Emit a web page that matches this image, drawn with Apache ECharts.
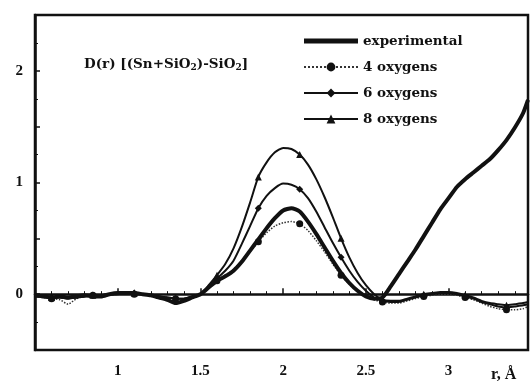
<!DOCTYPE html>
<html><head><meta charset="utf-8">
<script src="https://cdn.jsdelivr.net/npm/echarts@6/dist/echarts.min.js"></script>
<style>html,body{margin:0;padding:0;background:#fff}#c{width:531px;height:381px}</style>
</head><body><div id="c"></div>
<script>
// r grid (Å): 0.50 .. 3.45 in 0.05 steps, then 3.48
const rValues = [0.50,0.55,0.60,0.65,0.70,0.75,0.80,0.85,0.90,0.95,
  1.00,1.05,1.10,1.15,1.20,1.25,1.30,1.35,1.40,1.45,
  1.50,1.55,1.60,1.65,1.70,1.75,1.80,1.85,1.90,1.95,
  2.00,2.05,2.10,2.15,2.20,2.25,2.30,2.35,2.40,2.45,
  2.50,2.55,2.60,2.65,2.70,2.75,2.80,2.85,2.90,2.95,
  3.00,3.05,3.10,3.15,3.20,3.25,3.30,3.35,3.40,3.45,3.48];

const experimental = [-0.01,-0.02,-0.03,-0.02,-0.03,-0.02,-0.01,-0.02,-0.02,0.00,
  0.01,0.01,0.01,0.00,-0.01,-0.03,-0.05,-0.08,-0.06,-0.03,
  0.00,0.06,0.12,0.16,0.21,0.29,0.39,0.49,0.59,0.68,
  0.75,0.77,0.74,0.65,0.54,0.42,0.30,0.19,0.10,0.03,
  -0.02,-0.04,-0.03,0.07,0.18,0.29,0.40,0.52,0.64,0.76,
  0.86,0.96,1.03,1.09,1.15,1.21,1.29,1.38,1.49,1.62,1.74];

const oxygens4 = [-0.02,-0.03,-0.04,-0.05,-0.09,-0.04,-0.02,-0.01,-0.02,-0.01,
  0.00,0.01,0.00,0.00,-0.01,-0.02,-0.03,-0.04,-0.04,-0.02,
  0.00,0.06,0.12,0.17,0.22,0.30,0.38,0.47,0.55,0.61,
  0.64,0.65,0.63,0.57,0.48,0.38,0.27,0.17,0.09,0.03,
  -0.01,-0.05,-0.07,-0.08,-0.08,-0.06,-0.04,-0.02,-0.01,0.00,
  0.00,-0.01,-0.03,-0.05,-0.08,-0.11,-0.13,-0.14,-0.14,-0.13,-0.11];

const oxygens6 = [-0.02,-0.02,-0.03,-0.03,-0.04,-0.03,-0.02,-0.01,-0.01,0.00,
  0.00,0.01,0.01,0.00,-0.01,-0.02,-0.03,-0.04,-0.04,-0.02,
  0.00,0.07,0.14,0.21,0.30,0.45,0.61,0.77,0.88,0.95,
  0.99,0.98,0.94,0.86,0.74,0.60,0.46,0.33,0.21,0.11,
  0.03,-0.03,-0.06,-0.07,-0.07,-0.05,-0.03,-0.01,0.00,0.01,
  0.01,0.00,-0.02,-0.04,-0.07,-0.09,-0.11,-0.12,-0.11,-0.10,-0.09];

const oxygens8 = [-0.02,-0.02,-0.03,-0.02,-0.03,-0.03,-0.02,-0.01,-0.01,0.00,
  0.01,0.01,0.01,0.00,-0.01,-0.02,-0.03,-0.04,-0.04,-0.02,
  0.00,0.08,0.17,0.27,0.41,0.60,0.82,1.05,1.18,1.27,
  1.31,1.30,1.25,1.16,1.03,0.87,0.69,0.50,0.33,0.19,
  0.08,0.00,-0.05,-0.06,-0.06,-0.04,-0.02,0.00,0.01,0.02,
  0.02,0.01,-0.01,-0.03,-0.06,-0.08,-0.09,-0.10,-0.09,-0.08,-0.07];

const seriesNames = ['experimental','4 oxygens','6 oxygens','8 oxygens'];
const xTickLabels = ['1','1.5','2','2.5','3'];
const yTickLabels = ['0','1','2'];

const pair = arr => rValues.map((r,i)=>[r,arr[i]]);
const FONT = 'DejaVu Serif';
const TFONT = 'Liberation Serif';
const INK = '#111';
const markerSize = (v,p) => (p.dataIndex % 5 === 2 ? 7 : 0);

const chart = echarts.init(document.getElementById('c'), null, {renderer:'canvas'});
chart.setOption({
  animation:false,
  backgroundColor:'#fff',
  title:[{
    text:'D(r) [(Sn+SiO{s|2})-SiO{s|2}]',
    left:79, top:51,
    textStyle:{fontFamily:FONT,fontWeight:'bold',fontSize:13.5,color:INK,
      rich:{s:{fontFamily:FONT,fontWeight:'bold',fontSize:9,color:INK,verticalAlign:'bottom',padding:[7,0,0,0]}}}
  },{
    text:'r, Å', left:486, top:362,
    textStyle:{fontFamily:TFONT,fontWeight:'bold',fontSize:16,color:INK}
  }],
  legend:{
    orient:'vertical', left:298, top:29,
    itemWidth:54, itemHeight:11, itemGap:12, itemTextGap:11,
    data:[
      {name:seriesNames[0], icon:'path://M0,0H54V5H0Z'},
      {name:seriesNames[1]},
      {name:seriesNames[2]},
      {name:seriesNames[3]}
    ],
    textStyle:{fontFamily:FONT,fontWeight:'bold',fontSize:13.5,color:INK}
  },
  grid:{left:35,right:3,top:15,bottom:31,show:true,borderColor:INK,borderWidth:2.5},
  xAxis:{
    type:'value', min:0.5, max:3.48, interval:0.5,
    axisLine:{show:true,lineStyle:{color:INK,width:2.5}},
    axisTick:{show:true,inside:true,length:6,lineStyle:{color:INK,width:1.5}},
    minorTick:{show:true,splitNumber:5,length:3,lineStyle:{color:INK,width:1}},
    splitLine:{show:false},
    axisLabel:{margin:14,fontFamily:TFONT,fontWeight:'bold',fontSize:15,color:INK,
      formatter:v=>{const s=String(+v.toFixed(2));return xTickLabels.includes(s)?s:'';}}
  },
  yAxis:{
    type:'value', min:-0.5, max:2.5, interval:0.5,
    axisLine:{show:true,lineStyle:{color:INK,width:2.5}},
    axisTick:{show:true,inside:true,length:5,lineStyle:{color:INK,width:1.5}},
    minorTick:{show:true,splitNumber:2,length:3,lineStyle:{color:INK,width:1}},
    splitLine:{show:false},
    axisLabel:{margin:12,fontFamily:TFONT,fontWeight:'bold',fontSize:15,color:INK,
      formatter:v=>{const s=String(+v.toFixed(2));return yTickLabels.includes(s)?s:'';}}
  },
  series:[
    {name:seriesNames[0],type:'line',data:pair(experimental),symbol:'none',smooth:0.2,
      lineStyle:{color:INK,width:4},itemStyle:{color:INK},z:5},
    {name:seriesNames[1],type:'line',data:pair(oxygens4),symbol:'circle',symbolSize:markerSize,smooth:0.2,
      lineStyle:{color:'#333',width:1.5,type:'dotted'},itemStyle:{color:INK}},
    {name:seriesNames[2],type:'line',data:pair(oxygens6),symbol:'diamond',symbolSize:markerSize,smooth:0.2,
      lineStyle:{color:INK,width:2},itemStyle:{color:INK}},
    {name:seriesNames[3],type:'line',data:pair(oxygens8),symbol:'triangle',symbolSize:markerSize,smooth:0.2,
      lineStyle:{color:INK,width:2},itemStyle:{color:INK}}
  ]
});
</script></body></html>
